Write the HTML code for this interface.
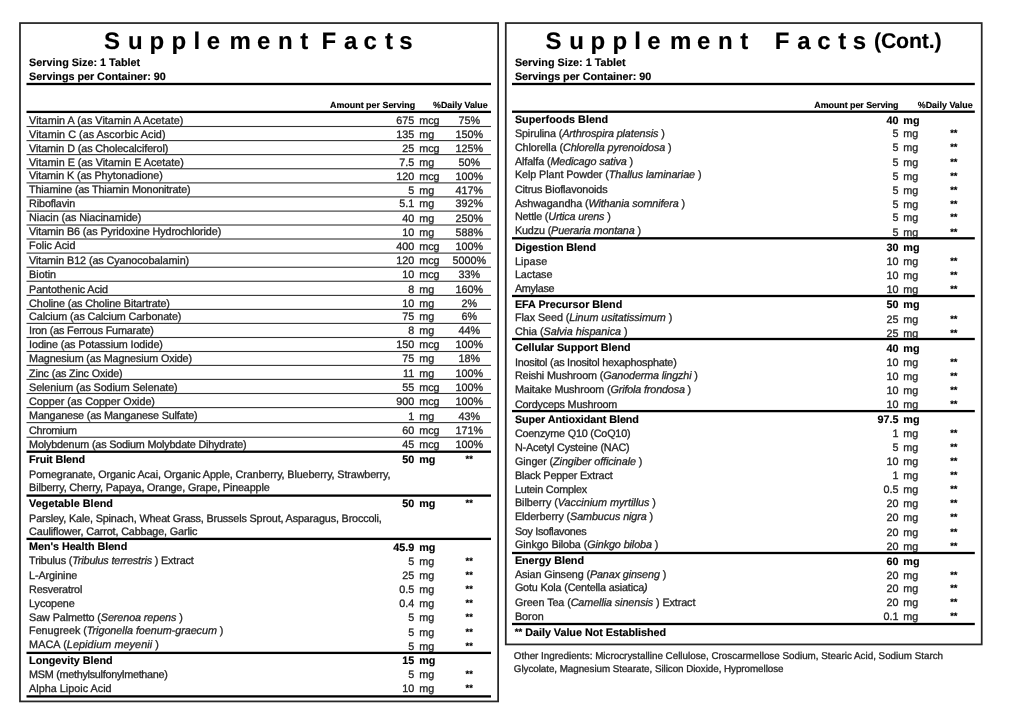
<!DOCTYPE html>
<html lang="en"><head><meta charset="utf-8"><title>Supplement Facts</title>
<style>
html,body{margin:0;padding:0;background:#fff;}
body{width:1024px;height:728px;overflow:hidden;}
svg{display:block;font-family:"Liberation Sans",Arial,Helvetica,sans-serif;font-size:10.8px;fill:#262626;}
text{white-space:pre;stroke:#262626;stroke-width:0.3px;text-rendering:geometricPrecision;}
.b{font-weight:bold;fill:#000;stroke:#000;stroke-width:0.15px;}
.i{font-style:italic;}
</style></head><body>
<svg width="1024" height="728" viewBox="0 0 1024 728">
<rect x="0" y="0" width="1024" height="728" fill="#fff"/>
<rect x="19.98" y="23.07" width="478.15" height="678.35" fill="none" stroke="#262626" stroke-width="1.75"/>
<text class="b t" x="103.96 127.91 149.52 171.47 193.42 206.66 229.62 256.96 277.97 300.31 310.00 321.44 343.90 363.61 385.01 399.36" y="49.0" font-size="24">Supplement Facts</text>
<text x="29.10" y="65.50" class="b" letter-spacing="0.012">Serving Size: 1 Tablet</text>
<text x="29.10" y="79.50" class="b" letter-spacing="-0.030">Servings per Container: 90</text>
<rect x="26.50" y="82.85" width="464.50" height="2.30" fill="#000"/>
<text x="330.00" y="108.30" font-size="8.9" class="b" letter-spacing="0.018">Amount per Serving</text>
<text x="433.10" y="108.30" font-size="8.9" class="b" letter-spacing="-0.018">%Daily Value</text>
<rect x="26.50" y="110.75" width="464.50" height="2.30" fill="#000"/>
<text x="29.10" y="123.75" letter-spacing="0.032">Vitamin A (as Vitamin A Acetate)</text>
<text x="414.30" y="123.95" text-anchor="end">675</text>
<text x="419.20" y="123.95">mcg</text>
<text x="469.20" y="123.95" text-anchor="middle">75%</text>
<rect x="26.50" y="125.95" width="464.50" height="1.10" fill="#333"/>
<text x="29.10" y="137.50" letter-spacing="0.037">Vitamin C (as Ascorbic Acid)</text>
<text x="414.30" y="137.70" text-anchor="end">135</text>
<text x="419.20" y="137.70">mg</text>
<text x="469.20" y="137.70" text-anchor="middle">150%</text>
<rect x="26.50" y="140.05" width="464.50" height="1.10" fill="#333"/>
<text x="29.10" y="151.60" letter-spacing="-0.095">Vitamin D (as Cholecalciferol)</text>
<text x="414.30" y="151.80" text-anchor="end">25</text>
<text x="419.20" y="151.80">mcg</text>
<text x="469.20" y="151.80" text-anchor="middle">125%</text>
<rect x="26.50" y="154.05" width="464.50" height="1.10" fill="#333"/>
<text x="29.10" y="165.90" letter-spacing="-0.032">Vitamin E (as Vitamin E Acetate)</text>
<text x="414.30" y="166.10" text-anchor="end">7.5</text>
<text x="419.20" y="166.10">mg</text>
<text x="469.20" y="166.10" text-anchor="middle">50%</text>
<rect x="26.50" y="168.20" width="464.50" height="1.10" fill="#333"/>
<text x="29.10" y="179.40" letter-spacing="-0.115">Vitamin K (as Phytonadione)</text>
<text x="414.30" y="179.60" text-anchor="end">120</text>
<text x="419.20" y="179.60">mcg</text>
<text x="469.20" y="179.60" text-anchor="middle">100%</text>
<rect x="26.50" y="182.35" width="464.50" height="1.10" fill="#333"/>
<text x="29.10" y="193.40" letter-spacing="-0.180">Thiamine (as Thiamin Mononitrate)</text>
<text x="414.30" y="193.60" text-anchor="end">5</text>
<text x="419.20" y="193.60">mg</text>
<text x="469.20" y="193.60" text-anchor="middle">417%</text>
<rect x="26.50" y="196.35" width="464.50" height="1.10" fill="#333"/>
<text x="29.10" y="207.25" letter-spacing="-0.139">Riboflavin</text>
<text x="414.30" y="207.45" text-anchor="end">5.1</text>
<text x="419.20" y="207.45">mg</text>
<text x="469.20" y="207.45" text-anchor="middle">392%</text>
<rect x="26.50" y="210.55" width="464.50" height="1.10" fill="#333"/>
<text x="29.10" y="221.40" letter-spacing="-0.080">Niacin (as Niacinamide)</text>
<text x="414.30" y="221.60" text-anchor="end">40</text>
<text x="419.20" y="221.60">mg</text>
<text x="469.20" y="221.60" text-anchor="middle">250%</text>
<rect x="26.50" y="224.45" width="464.50" height="1.10" fill="#333"/>
<text x="29.10" y="235.40" letter-spacing="-0.115">Vitamin B6 (as Pyridoxine Hydrochloride)</text>
<text x="414.30" y="235.60" text-anchor="end">10</text>
<text x="419.20" y="235.60">mg</text>
<text x="469.20" y="235.60" text-anchor="middle">588%</text>
<rect x="26.50" y="238.45" width="464.50" height="1.10" fill="#333"/>
<text x="29.10" y="249.40" letter-spacing="0.028">Folic Acid</text>
<text x="414.30" y="249.60" text-anchor="end">400</text>
<text x="419.20" y="249.60">mcg</text>
<text x="469.20" y="249.60" text-anchor="middle">100%</text>
<rect x="26.50" y="252.55" width="464.50" height="1.10" fill="#333"/>
<text x="29.10" y="263.50" letter-spacing="-0.100">Vitamin B12 (as Cyanocobalamin)</text>
<text x="414.30" y="263.70" text-anchor="end">120</text>
<text x="419.20" y="263.70">mcg</text>
<text x="469.20" y="263.70" text-anchor="middle">5000%</text>
<rect x="26.50" y="266.70" width="464.50" height="1.10" fill="#333"/>
<text x="29.10" y="277.90" letter-spacing="0.000">Biotin</text>
<text x="414.30" y="278.10" text-anchor="end">10</text>
<text x="419.20" y="278.10">mcg</text>
<text x="469.20" y="278.10" text-anchor="middle">33%</text>
<rect x="26.50" y="280.70" width="464.50" height="1.10" fill="#333"/>
<text x="29.10" y="292.50" letter-spacing="-0.100">Pantothenic Acid</text>
<text x="414.30" y="292.70" text-anchor="end">8</text>
<text x="419.20" y="292.70">mg</text>
<text x="469.20" y="292.70" text-anchor="middle">160%</text>
<rect x="26.50" y="294.85" width="464.50" height="1.10" fill="#333"/>
<text x="29.10" y="306.60" letter-spacing="-0.125">Choline (as Choline Bitartrate)</text>
<text x="414.30" y="306.80" text-anchor="end">10</text>
<text x="419.20" y="306.80">mg</text>
<text x="469.20" y="306.80" text-anchor="middle">2%</text>
<rect x="26.50" y="308.85" width="464.50" height="1.10" fill="#333"/>
<text x="29.10" y="320.00" letter-spacing="-0.129">Calcium (as Calcium Carbonate)</text>
<text x="414.30" y="320.20" text-anchor="end">75</text>
<text x="419.20" y="320.20">mg</text>
<text x="469.20" y="320.20" text-anchor="middle">6%</text>
<rect x="26.50" y="322.85" width="464.50" height="1.10" fill="#333"/>
<text x="29.10" y="334.10" letter-spacing="-0.190">Iron (as Ferrous Fumarate)</text>
<text x="414.30" y="334.30" text-anchor="end">8</text>
<text x="419.20" y="334.30">mg</text>
<text x="469.20" y="334.30" text-anchor="middle">44%</text>
<rect x="26.50" y="336.95" width="464.50" height="1.10" fill="#333"/>
<text x="29.10" y="347.80" letter-spacing="-0.111">Iodine (as Potassium Iodide)</text>
<text x="414.30" y="348.00" text-anchor="end">150</text>
<text x="419.20" y="348.00">mcg</text>
<text x="469.20" y="348.00" text-anchor="middle">100%</text>
<rect x="26.50" y="350.95" width="464.50" height="1.10" fill="#333"/>
<text x="29.10" y="362.10" letter-spacing="-0.155">Magnesium (as Magnesium Oxide)</text>
<text x="414.30" y="362.30" text-anchor="end">75</text>
<text x="419.20" y="362.30">mg</text>
<text x="469.20" y="362.30" text-anchor="middle">18%</text>
<rect x="26.50" y="364.85" width="464.50" height="1.10" fill="#333"/>
<text x="29.10" y="376.50" letter-spacing="-0.158">Zinc (as Zinc Oxide)</text>
<text x="414.30" y="376.70" text-anchor="end">11</text>
<text x="419.20" y="376.70">mg</text>
<text x="469.20" y="376.70" text-anchor="middle">100%</text>
<rect x="26.50" y="378.85" width="464.50" height="1.10" fill="#333"/>
<text x="29.10" y="390.60" letter-spacing="-0.116">Selenium (as Sodium Selenate)</text>
<text x="414.30" y="390.80" text-anchor="end">55</text>
<text x="419.20" y="390.80">mcg</text>
<text x="469.20" y="390.80" text-anchor="middle">100%</text>
<rect x="26.50" y="392.95" width="464.50" height="1.10" fill="#333"/>
<text x="29.10" y="404.75" letter-spacing="-0.033">Copper (as Copper Oxide)</text>
<text x="414.30" y="404.95" text-anchor="end">900</text>
<text x="419.20" y="404.95">mcg</text>
<text x="469.20" y="404.95" text-anchor="middle">100%</text>
<rect x="26.50" y="407.05" width="464.50" height="1.10" fill="#333"/>
<text x="29.10" y="419.40" letter-spacing="-0.177">Manganese (as Manganese Sulfate)</text>
<text x="414.30" y="419.60" text-anchor="end">1</text>
<text x="419.20" y="419.60">mg</text>
<text x="469.20" y="419.60" text-anchor="middle">43%</text>
<rect x="26.50" y="422.05" width="464.50" height="1.10" fill="#333"/>
<text x="29.10" y="433.75" letter-spacing="-0.286">Chromium</text>
<text x="414.30" y="433.95" text-anchor="end">60</text>
<text x="419.20" y="433.95">mcg</text>
<text x="469.20" y="433.95" text-anchor="middle">171%</text>
<rect x="26.50" y="436.70" width="464.50" height="1.10" fill="#333"/>
<text x="29.10" y="448.10" letter-spacing="-0.183">Molybdenum (as Sodium Molybdate Dihydrate)</text>
<text x="414.30" y="448.30" text-anchor="end">45</text>
<text x="419.20" y="448.30">mcg</text>
<text x="469.20" y="448.30" text-anchor="middle">100%</text>
<rect x="26.50" y="450.55" width="464.50" height="2.30" fill="#000"/>
<text x="29.10" y="463.20" class="b" letter-spacing="-0.100">Fruit Blend</text>
<text x="414.30" y="463.20" class="b" text-anchor="end">50</text>
<text x="419.20" y="463.20" class="b">mg</text>
<text x="469.20" y="462.20" font-size="9.4" class="b" text-anchor="middle">**</text>
<text x="29.10" y="477.50" letter-spacing="-0.128">Pomegranate, Organic Acai, Organic Apple, Cranberry, Blueberry, Strawberry,</text>
<text x="29.10" y="491.30" letter-spacing="-0.153">Bilberry, Cherry, Papaya, Orange, Grape, Pineapple</text>
<rect x="26.50" y="494.45" width="464.50" height="2.30" fill="#000"/>
<text x="29.10" y="507.20" class="b" letter-spacing="0.029">Vegetable Blend</text>
<text x="414.30" y="507.20" class="b" text-anchor="end">50</text>
<text x="419.20" y="507.20" class="b">mg</text>
<text x="469.20" y="506.20" font-size="9.4" class="b" text-anchor="middle">**</text>
<text x="29.10" y="521.50" letter-spacing="-0.147">Parsley, Kale, Spinach, Wheat Grass, Brussels Sprout, Asparagus, Broccoli,</text>
<text x="29.10" y="535.00" letter-spacing="-0.129">Cauliflower, Carrot, Cabbage, Garlic</text>
<rect x="26.50" y="537.75" width="464.50" height="2.30" fill="#000"/>
<text x="29.10" y="550.30" class="b" letter-spacing="-0.059">Men's Health Blend</text>
<text x="414.30" y="550.50" class="b" text-anchor="end">45.9</text>
<text x="419.20" y="550.50" class="b">mg</text>
<text x="29.10" y="563.50" letter-spacing="-0.151">Tribulus (<tspan class="i">Tribulus terrestris</tspan> ) Extract</text>
<text x="414.30" y="564.50" text-anchor="end">5</text>
<text x="419.20" y="564.50">mg</text>
<text x="469.20" y="563.50" font-size="9.4" class="b" text-anchor="middle">**</text>
<text x="29.10" y="578.75" letter-spacing="-0.111">L-Arginine</text>
<text x="414.30" y="578.75" text-anchor="end">25</text>
<text x="419.20" y="578.75">mg</text>
<text x="469.20" y="577.75" font-size="9.4" class="b" text-anchor="middle">**</text>
<text x="29.10" y="592.75" letter-spacing="-0.200">Resveratrol</text>
<text x="414.30" y="593.00" text-anchor="end">0.5</text>
<text x="419.20" y="593.00">mg</text>
<text x="469.20" y="592.00" font-size="9.4" class="b" text-anchor="middle">**</text>
<text x="29.10" y="606.90" letter-spacing="-0.107">Lycopene</text>
<text x="414.30" y="607.00" text-anchor="end">0.4</text>
<text x="419.20" y="607.00">mg</text>
<text x="469.20" y="606.00" font-size="9.4" class="b" text-anchor="middle">**</text>
<text x="29.10" y="620.60" letter-spacing="-0.103">Saw Palmetto (<tspan class="i">Serenoa repens</tspan> )</text>
<text x="414.30" y="621.25" text-anchor="end">5</text>
<text x="419.20" y="621.25">mg</text>
<text x="469.20" y="620.25" font-size="9.4" class="b" text-anchor="middle">**</text>
<text x="29.10" y="634.40" letter-spacing="-0.047">Fenugreek (<tspan class="i">Trigonella foenum-graecum</tspan> )</text>
<text x="414.30" y="635.50" text-anchor="end">5</text>
<text x="419.20" y="635.50">mg</text>
<text x="469.20" y="634.50" font-size="9.4" class="b" text-anchor="middle">**</text>
<text x="29.10" y="647.50" letter-spacing="0.087">MACA (<tspan class="i">Lepidium meyenii</tspan> )</text>
<text x="414.30" y="649.50" text-anchor="end">5</text>
<text x="419.20" y="649.50">mg</text>
<text x="469.20" y="648.50" font-size="9.4" class="b" text-anchor="middle">**</text>
<rect x="26.50" y="651.75" width="464.50" height="2.30" fill="#000"/>
<text x="29.10" y="664.20" class="b" letter-spacing="-0.036">Longevity Blend</text>
<text x="414.30" y="664.20" class="b" text-anchor="end">15</text>
<text x="419.20" y="664.20" class="b">mg</text>
<text x="29.10" y="678.40" letter-spacing="-0.269">MSM (methylsulfonylmethane)</text>
<text x="414.30" y="678.40" text-anchor="end">5</text>
<text x="419.20" y="678.40">mg</text>
<text x="469.20" y="677.40" font-size="9.4" class="b" text-anchor="middle">**</text>
<text x="29.10" y="692.30" letter-spacing="0.016">Alpha Lipoic Acid</text>
<text x="414.30" y="692.30" text-anchor="end">10</text>
<text x="419.20" y="692.30">mg</text>
<text x="469.20" y="691.30" font-size="9.4" class="b" text-anchor="middle">**</text>
<rect x="26.50" y="695.25" width="464.50" height="2.30" fill="#000"/>
<rect x="505.77" y="23.07" width="475.95" height="621.35" fill="none" stroke="#262626" stroke-width="1.75"/>
<text class="b t" x="545.61 569.21 590.42 612.62 634.32 647.31 669.92 697.06 717.97 740.31 755.00 774.69 797.20 817.26 838.31 852.76" y="49.0" font-size="24">Supplement Facts</text>
<text x="874.00" y="48.20" font-size="21.3" class="b" letter-spacing="-0.183">(Cont.)</text>
<text x="514.90" y="65.50" class="b" letter-spacing="0.000">Serving Size: 1 Tablet</text>
<text x="514.90" y="79.50" class="b" letter-spacing="-0.044">Servings per Container: 90</text>
<rect x="512.00" y="82.85" width="462.80" height="2.30" fill="#000"/>
<text x="814.30" y="108.30" font-size="8.9" class="b" letter-spacing="-0.035">Amount per Serving</text>
<text x="917.80" y="108.30" font-size="8.9" class="b" letter-spacing="0.009">%Daily Value</text>
<rect x="512.00" y="110.55" width="462.80" height="2.30" fill="#000"/>
<text x="514.90" y="123.00" class="b" letter-spacing="0.017">Superfoods Blend</text>
<text x="898.40" y="123.75" class="b" text-anchor="end">40</text>
<text x="903.30" y="123.75" class="b">mg</text>
<text x="514.90" y="136.50" letter-spacing="-0.114">Spirulina (<tspan class="i">Arthrospira platensis</tspan> )</text>
<text x="898.40" y="137.00" text-anchor="end">5</text>
<text x="903.30" y="137.00">mg</text>
<text x="953.80" y="136.00" font-size="9.4" class="b" text-anchor="middle">**</text>
<text x="514.90" y="150.50" letter-spacing="-0.106">Chlorella (<tspan class="i">Chlorella pyrenoidosa</tspan> )</text>
<text x="898.40" y="151.25" text-anchor="end">5</text>
<text x="903.30" y="151.25">mg</text>
<text x="953.80" y="150.25" font-size="9.4" class="b" text-anchor="middle">**</text>
<text x="514.90" y="164.50" letter-spacing="-0.120">Alfalfa (<tspan class="i">Medicago sativa</tspan> )</text>
<text x="898.40" y="165.50" text-anchor="end">5</text>
<text x="903.30" y="165.50">mg</text>
<text x="953.80" y="164.50" font-size="9.4" class="b" text-anchor="middle">**</text>
<text x="514.90" y="178.25" letter-spacing="-0.079">Kelp Plant Powder (<tspan class="i">Thallus laminariae</tspan> )</text>
<text x="898.40" y="179.50" text-anchor="end">5</text>
<text x="903.30" y="179.50">mg</text>
<text x="953.80" y="178.50" font-size="9.4" class="b" text-anchor="middle">**</text>
<text x="514.90" y="193.25" letter-spacing="-0.145">Citrus Bioflavonoids</text>
<text x="898.40" y="193.50" text-anchor="end">5</text>
<text x="903.30" y="193.50">mg</text>
<text x="953.80" y="192.50" font-size="9.4" class="b" text-anchor="middle">**</text>
<text x="514.90" y="206.75" letter-spacing="-0.117">Ashwagandha (<tspan class="i">Withania somnifera</tspan> )</text>
<text x="898.40" y="207.50" text-anchor="end">5</text>
<text x="903.30" y="207.50">mg</text>
<text x="953.80" y="206.50" font-size="9.4" class="b" text-anchor="middle">**</text>
<text x="514.90" y="220.00" letter-spacing="-0.179">Nettle (<tspan class="i">Urtica urens</tspan> )</text>
<text x="898.40" y="221.25" text-anchor="end">5</text>
<text x="903.30" y="221.25">mg</text>
<text x="953.80" y="220.25" font-size="9.4" class="b" text-anchor="middle">**</text>
<text x="514.90" y="233.75" letter-spacing="-0.146">Kudzu (<tspan class="i">Pueraria montana</tspan> )</text>
<text x="898.40" y="235.50" text-anchor="end">5</text>
<text x="903.30" y="235.50">mg</text>
<text x="953.80" y="234.50" font-size="9.4" class="b" text-anchor="middle">**</text>
<rect x="512.00" y="237.15" width="462.80" height="2.30" fill="#000"/>
<text x="514.90" y="250.75" class="b" letter-spacing="-0.071">Digestion Blend</text>
<text x="898.40" y="250.75" class="b" text-anchor="end">30</text>
<text x="903.30" y="250.75" class="b">mg</text>
<text x="514.90" y="265.00" letter-spacing="0.100">Lipase</text>
<text x="898.40" y="265.00" text-anchor="end">10</text>
<text x="903.30" y="265.00">mg</text>
<text x="953.80" y="264.00" font-size="9.4" class="b" text-anchor="middle">**</text>
<text x="514.90" y="278.00" letter-spacing="-0.042">Lactase</text>
<text x="898.40" y="279.00" text-anchor="end">10</text>
<text x="903.30" y="279.00">mg</text>
<text x="953.80" y="278.00" font-size="9.4" class="b" text-anchor="middle">**</text>
<text x="514.90" y="292.00" letter-spacing="-0.292">Amylase</text>
<text x="898.40" y="293.00" text-anchor="end">10</text>
<text x="903.30" y="293.00">mg</text>
<text x="953.80" y="292.00" font-size="9.4" class="b" text-anchor="middle">**</text>
<rect x="512.00" y="294.85" width="462.80" height="2.30" fill="#000"/>
<text x="514.90" y="308.00" class="b" letter-spacing="-0.014">EFA Precursor Blend</text>
<text x="898.40" y="308.25" class="b" text-anchor="end">50</text>
<text x="903.30" y="308.25" class="b">mg</text>
<text x="514.90" y="321.25" letter-spacing="-0.073">Flax Seed (<tspan class="i">Linum usitatissimum</tspan> )</text>
<text x="898.40" y="322.50" text-anchor="end">25</text>
<text x="903.30" y="322.50">mg</text>
<text x="953.80" y="321.50" font-size="9.4" class="b" text-anchor="middle">**</text>
<text x="514.90" y="334.50" letter-spacing="-0.033">Chia (<tspan class="i">Salvia hispanica</tspan> )</text>
<text x="898.40" y="336.75" text-anchor="end">25</text>
<text x="903.30" y="336.75">mg</text>
<text x="953.80" y="335.75" font-size="9.4" class="b" text-anchor="middle">**</text>
<rect x="512.00" y="337.85" width="462.80" height="2.30" fill="#000"/>
<text x="514.90" y="351.25" class="b" letter-spacing="-0.060">Cellular Support Blend</text>
<text x="898.40" y="351.75" class="b" text-anchor="end">40</text>
<text x="903.30" y="351.75" class="b">mg</text>
<text x="514.90" y="365.75" letter-spacing="-0.229">Inositol (as Inositol hexaphosphate)</text>
<text x="898.40" y="365.75" text-anchor="end">10</text>
<text x="903.30" y="365.75">mg</text>
<text x="953.80" y="364.75" font-size="9.4" class="b" text-anchor="middle">**</text>
<text x="514.90" y="378.75" letter-spacing="-0.136">Reishi Mushroom (<tspan class="i">Ganoderma lingzhi</tspan> )</text>
<text x="898.40" y="380.00" text-anchor="end">10</text>
<text x="903.30" y="380.00">mg</text>
<text x="953.80" y="379.00" font-size="9.4" class="b" text-anchor="middle">**</text>
<text x="514.90" y="393.00" letter-spacing="-0.157">Maitake Mushroom (<tspan class="i">Grifola frondosa</tspan> )</text>
<text x="898.40" y="393.75" text-anchor="end">10</text>
<text x="903.30" y="393.75">mg</text>
<text x="953.80" y="392.75" font-size="9.4" class="b" text-anchor="middle">**</text>
<text x="514.90" y="407.50" letter-spacing="-0.191">Cordyceps Mushroom</text>
<text x="898.40" y="408.00" text-anchor="end">10</text>
<text x="903.30" y="408.00">mg</text>
<text x="953.80" y="407.00" font-size="9.4" class="b" text-anchor="middle">**</text>
<rect x="512.00" y="409.95" width="462.80" height="2.30" fill="#000"/>
<text x="514.90" y="422.50" class="b" letter-spacing="-0.068">Super Antioxidant Blend</text>
<text x="898.40" y="422.50" class="b" text-anchor="end">97.5</text>
<text x="903.30" y="422.50" class="b">mg</text>
<text x="514.90" y="437.00" letter-spacing="-0.197">Coenzyme Q10 (CoQ10)</text>
<text x="898.40" y="436.75" text-anchor="end">1</text>
<text x="903.30" y="436.75">mg</text>
<text x="953.80" y="435.75" font-size="9.4" class="b" text-anchor="middle">**</text>
<text x="514.90" y="450.60" letter-spacing="-0.182">N-Acetyl Cysteine (NAC)</text>
<text x="898.40" y="450.60" text-anchor="end">5</text>
<text x="903.30" y="450.60">mg</text>
<text x="953.80" y="449.60" font-size="9.4" class="b" text-anchor="middle">**</text>
<text x="514.90" y="464.50" letter-spacing="-0.098">Ginger (<tspan class="i">Zingiber officinale</tspan> )</text>
<text x="898.40" y="465.00" text-anchor="end">10</text>
<text x="903.30" y="465.00">mg</text>
<text x="953.80" y="464.00" font-size="9.4" class="b" text-anchor="middle">**</text>
<text x="514.90" y="478.75" letter-spacing="-0.158">Black Pepper Extract</text>
<text x="898.40" y="479.25" text-anchor="end">1</text>
<text x="903.30" y="479.25">mg</text>
<text x="953.80" y="478.25" font-size="9.4" class="b" text-anchor="middle">**</text>
<text x="514.90" y="492.50" letter-spacing="-0.212">Lutein Complex</text>
<text x="898.40" y="493.25" text-anchor="end">0.5</text>
<text x="903.30" y="493.25">mg</text>
<text x="953.80" y="492.25" font-size="9.4" class="b" text-anchor="middle">**</text>
<text x="514.90" y="505.75" letter-spacing="-0.025">Bilberry (<tspan class="i">Vaccinium myrtillus</tspan> )</text>
<text x="898.40" y="507.00" text-anchor="end">20</text>
<text x="903.30" y="507.00">mg</text>
<text x="953.80" y="506.00" font-size="9.4" class="b" text-anchor="middle">**</text>
<text x="514.90" y="519.50" letter-spacing="-0.102">Elderberry (<tspan class="i">Sambucus nigra</tspan> )</text>
<text x="898.40" y="521.25" text-anchor="end">20</text>
<text x="903.30" y="521.25">mg</text>
<text x="953.80" y="520.25" font-size="9.4" class="b" text-anchor="middle">**</text>
<text x="514.90" y="534.50" letter-spacing="-0.321">Soy Isoflavones</text>
<text x="898.40" y="535.50" text-anchor="end">20</text>
<text x="903.30" y="535.50">mg</text>
<text x="953.80" y="534.50" font-size="9.4" class="b" text-anchor="middle">**</text>
<text x="514.90" y="547.50" letter-spacing="-0.103">Ginkgo Biloba (<tspan class="i">Ginkgo biloba</tspan> )</text>
<text x="898.40" y="549.50" text-anchor="end">20</text>
<text x="903.30" y="549.50">mg</text>
<text x="953.80" y="548.50" font-size="9.4" class="b" text-anchor="middle">**</text>
<rect x="512.00" y="551.85" width="462.80" height="2.30" fill="#000"/>
<text x="514.90" y="564.25" class="b" letter-spacing="-0.045">Energy Blend</text>
<text x="898.40" y="564.50" class="b" text-anchor="end">60</text>
<text x="903.30" y="564.50" class="b">mg</text>
<text x="514.90" y="577.50" letter-spacing="-0.121">Asian Ginseng (<tspan class="i">Panax ginseng</tspan> )</text>
<text x="898.40" y="578.75" text-anchor="end">20</text>
<text x="903.30" y="578.75">mg</text>
<text x="953.80" y="577.75" font-size="9.4" class="b" text-anchor="middle">**</text>
<text x="514.90" y="591.25" letter-spacing="-0.170">Gotu Kola (Centella asiatica<tspan class="i">)</tspan></text>
<text x="898.40" y="592.00" text-anchor="end">20</text>
<text x="903.30" y="592.00">mg</text>
<text x="953.80" y="591.00" font-size="9.4" class="b" text-anchor="middle">**</text>
<text x="514.90" y="605.50" letter-spacing="-0.095">Green Tea (<tspan class="i">Camellia sinensis</tspan> ) Extract</text>
<text x="898.40" y="606.25" text-anchor="end">20</text>
<text x="903.30" y="606.25">mg</text>
<text x="953.80" y="605.25" font-size="9.4" class="b" text-anchor="middle">**</text>
<text x="514.90" y="620.00" letter-spacing="0.000">Boron</text>
<text x="898.40" y="620.20" text-anchor="end">0.1</text>
<text x="903.30" y="620.20">mg</text>
<text x="953.80" y="619.20" font-size="9.4" class="b" text-anchor="middle">**</text>
<rect x="512.00" y="622.85" width="462.80" height="2.30" fill="#000"/>
<text x="514.80" y="635.80" class="b" letter-spacing="-0.026"><tspan font-size="9.6" dy="-1">**</tspan><tspan dy="1"> Daily Value Not Established</tspan></text>
<text x="513.80" y="659.40" font-size="9.85" letter-spacing="-0.008">Other Ingredients: Microcrystalline Cellulose, Croscarmellose Sodium, Stearic Acid, Sodium Starch</text>
<text x="513.80" y="671.90" font-size="9.85" letter-spacing="-0.055">Glycolate, Magnesium Stearate, Silicon Dioxide, Hypromellose</text>
</svg>
</body></html>
